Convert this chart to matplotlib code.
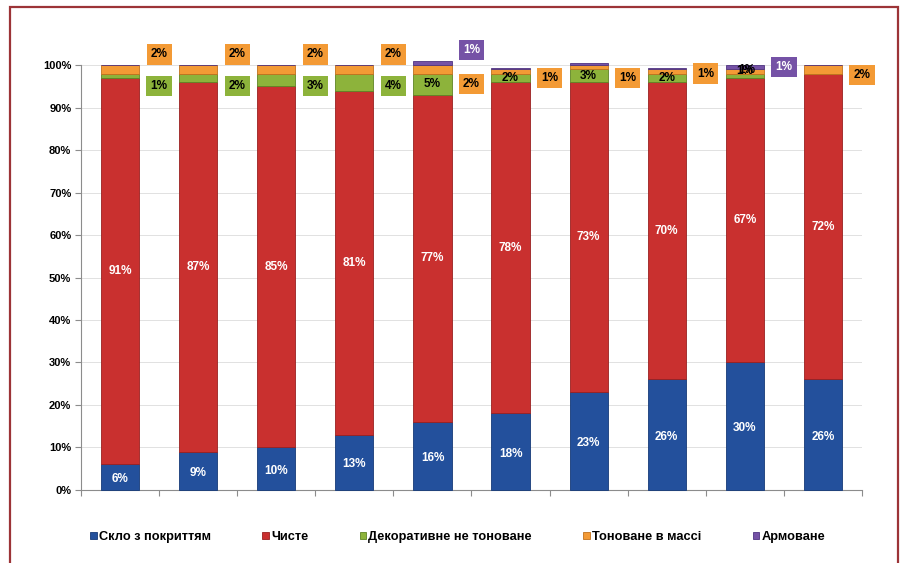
import matplotlib
matplotlib.use("Agg")
import matplotlib.pyplot as plt
from matplotlib.patches import Rectangle

plt.rcParams['font.family'] = ['Liberation Sans', 'DejaVu Sans']
plt.rcParams['font.weight'] = 'bold'

# shares of glass types, % (ten periods, no x labels)
coated = [6, 9, 10, 13, 16, 18, 23, 26, 30, 26]
clear = [91, 87, 85, 81, 77, 78, 73, 70, 67, 72]
decor = [1, 2, 3, 4, 5, 2, 3, 2, 1, 0]
tinted = [2, 2, 2, 2, 2, 1, 1, 1, 1, 2]
wired = [0, 0, 0, 0, 1, 0.4, 0.4, 0.4, 1, 0]

names = ['Скло з покриттям', 'Чисте', 'Декоративне не тоноване',
         'Тоноване в массі', 'Армоване']
series = [coated, clear, decor, tinted, wired]
colors = ['#23509c', '#c9302f', '#8db33b', '#f39a35', '#7552a6']
edges = ['#163a78', '#9a2020', '#5f8424', '#c0701c', '#4f3482']

fig = plt.figure(figsize=(9.01, 5.63), dpi=100)
ax = fig.add_axes([0.0899, 0.1297, 0.8668, 0.7548])

x = list(range(len(coated)))
bottom = [0] * len(x)
for vals, name, c, ec in zip(series, names, colors, edges):
    ax.bar(x, vals, 0.49, bottom=bottom, color=c, edgecolor=ec,
           linewidth=0.6, label=name, clip_on=False, zorder=3)
    bottom = [b + v for b, v in zip(bottom, vals)]

# labels inside the segments
def seg_mid(k, i):
    return sum(s[i] for s in series[:k]) + series[k][i] / 2

for i in x:
    ax.text(i, seg_mid(0, i) - 0.5, f'{coated[i]}%', ha='center', va='center',
            color='white', fontsize=8.5, fontweight='bold', zorder=5)
    ax.text(i, seg_mid(1, i), f'{clear[i]}%', ha='center', va='center',
            color='white', fontsize=8.5, fontweight='bold', zorder=5)
for i in [4, 5, 6, 7]:
    ax.text(i, seg_mid(2, i), f'{decor[i]}%', ha='center', va='center',
            color='black', fontsize=8.5, fontweight='bold', zorder=5)
# bar 9: green and orange labels sit on top of each other
ax.text(8, 98.6, f'{decor[8]}%', ha='center', va='center',
        color='black', fontsize=8.5, fontweight='bold', zorder=5)
ax.text(8.03, 98.9, f'{tinted[8]}%', ha='center', va='center',
        color='black', fontsize=8.5, fontweight='bold', zorder=5)

# labels moved out beside the bars: (bar, series, y)
outside = [(0, 3, 102.5), (0, 2, 95), (1, 3, 102.5), (1, 2, 95),
           (2, 3, 102.5), (2, 2, 95), (3, 3, 102.5), (3, 2, 95),
           (4, 4, 103.6), (4, 3, 95.5), (5, 3, 97), (6, 3, 97),
           (7, 3, 98), (8, 4, 99.6), (9, 3, 97.6)]
for i, k, y in outside:
    tc = 'white' if k == 4 else 'black'
    ax.text(i + 0.5, y, f'{round(series[k][i])}%', ha='center', va='center',
            color=tc, fontsize=8.5, fontweight='bold', zorder=6,
            bbox=dict(boxstyle='square,pad=0.35', fc=colors[k], ec='none'))

ax.set_xlim(-0.5, 9.5)
ax.set_ylim(0, 100)
ax.set_yticks(range(0, 101, 10))
ax.set_yticklabels([f'{v}%' for v in range(0, 101, 10)])
ax.set_xticks([i + 0.5 for i in range(-1, 10)])
ax.set_xticklabels([])
ax.tick_params(axis='x', length=4, color='#8c8c8c', direction='out')
ax.tick_params(axis='y', length=4, color='#8c8c8c', labelsize=8, pad=3)
for lab in ax.get_yticklabels():
    lab.set_fontweight('bold')
ax.grid(axis='y', color='#dcdcdc', linewidth=0.6, zorder=0)
for s in ['top', 'right']:
    ax.spines[s].set_visible(False)
for s in ['left', 'bottom']:
    ax.spines[s].set_color('#8c8c8c')
    ax.spines[s].set_linewidth(0.8)

leg = fig.legend(loc='center', bbox_to_anchor=(0.508, 0.046), ncol=5,
                 frameon=False, fontsize=9.2, handlelength=0.5,
                 handleheight=0.5, handletextpad=0.2, columnspacing=4.0)
for t in leg.get_texts():
    t.set_fontweight('bold')

fig.patches.append(Rectangle((10 / 901, -0.02), 888 / 901, 1.02 - 7 / 563,
                             transform=fig.transFigure, fill=False,
                             edgecolor='#9c3437', linewidth=1.6))

fig.savefig('out.png', dpi=100)
